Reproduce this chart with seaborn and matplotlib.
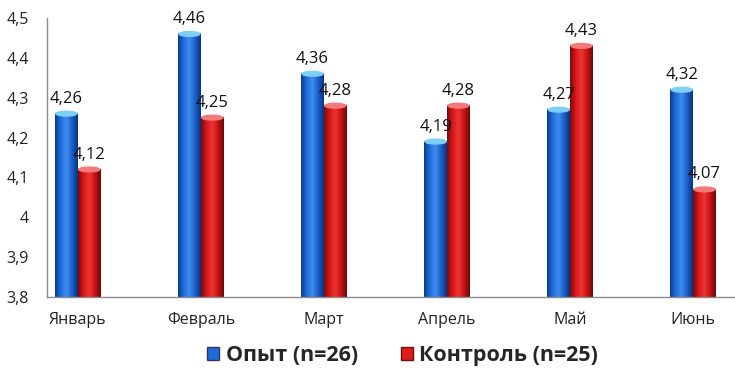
import numpy as np
import pandas as pd
import matplotlib
matplotlib.use("Agg")
import matplotlib.pyplot as plt
from matplotlib.patches import Patch, Ellipse
from matplotlib.colors import LinearSegmentedColormap
import seaborn as sns

months = ["Январь", "Февраль", "Март", "Апрель", "Май", "Июнь"]
opyt = [4.26, 4.46, 4.36, 4.19, 4.27, 4.32]
kontrol = [4.12, 4.25, 4.28, 4.28, 4.43, 4.07]
series = ["Опыт (n=26)", "Контроль (n=25)"]

df = pd.DataFrame({
    "month": months * 2,
    "value": opyt + kontrol,
    "group": [series[0]] * len(months) + [series[1]] * len(months),
})

sns.set_style("white")
plt.rcParams["font.family"] = ["Open Sans", "DejaVu Sans"]

colors = {series[0]: "#1e6ad6", series[1]: "#e01c1c"}
grads = {
    series[0]: ["#0b3a8f", "#1f6fdc", "#3f8cf0", "#1a5fc8", "#0a3380"],
    series[1]: ["#7d0a0a", "#d81818", "#f03434", "#c41414", "#6e0808"],
}
caps = {series[0]: "#7cd0f7", series[1]: "#f27a7a"}
ymin, ymax = 3.8, 4.5

fig = plt.figure(figsize=(7.35, 3.84), dpi=100)
ax = fig.add_axes([47 / 735, 87 / 384, 688 / 735, 279 / 384])

sns.barplot(data=df, x="month", y="value", hue="group", palette=colors,
            width=0.37, gap=0, ax=ax, legend=False, saturation=1)

ax.set_xlabel("")
ax.set_ylabel("")
ticks = np.round(np.arange(ymin, ymax + 0.01, 0.1), 1)
ax.set_yticks(ticks)
ax.set_yticklabels([f"{v:g}".replace(".", ",") for v in ticks])
ax.tick_params(axis="both", labelsize=11.5, colors="#222222", length=0)
ax.tick_params(axis="y", pad=13)
ax.tick_params(axis="x", pad=11)

for s in ["top", "right"]:
    ax.spines[s].set_visible(False)
for s in ["left", "bottom"]:
    ax.spines[s].set_color("#8c8c8c")
    ax.spines[s].set_linewidth(1.0)

# cylinder-ish shading on every bar
for cont, name in zip(ax.containers, series):
    cmap = LinearSegmentedColormap.from_list(name, grads[name])
    for bar in cont:
        x0, w = bar.get_x(), bar.get_width()
        top = bar.get_y() + bar.get_height()
        grad = np.linspace(0, 1, 64).reshape(1, -1)
        ax.imshow(grad, cmap=cmap, extent=[x0, x0 + w, ymin, top],
                  aspect="auto", zorder=bar.get_zorder() + 0.1)
        bar.set_visible(False)
        cap = Ellipse((x0 + w / 2, top), w * 0.92, 0.012, color=caps[name],
                      zorder=bar.get_zorder() + 0.2)
        ax.add_patch(cap)
    ax.bar_label(cont, labels=[f"{v:.2f}".replace(".", ",") for v in cont.datavalues],
                 padding=5, fontsize=12, color="#111111")

ax.set_xlim(-0.25, 5.34)
ax.set_ylim(ymin, ymax)

handles = [Patch(facecolor=colors[s], edgecolor="#333366" if i == 0 else "#661111", label=s)
           for i, s in enumerate(series)]
fig.legend(handles=handles, loc="center", bbox_to_anchor=(0.548, 0.073), ncol=2, frameon=False,
           prop={"weight": "bold", "size": 15.5}, handlelength=0.55, handleheight=0.55,
           handletextpad=0.3, columnspacing=2.0)

fig.savefig("out.png", dpi=100)
